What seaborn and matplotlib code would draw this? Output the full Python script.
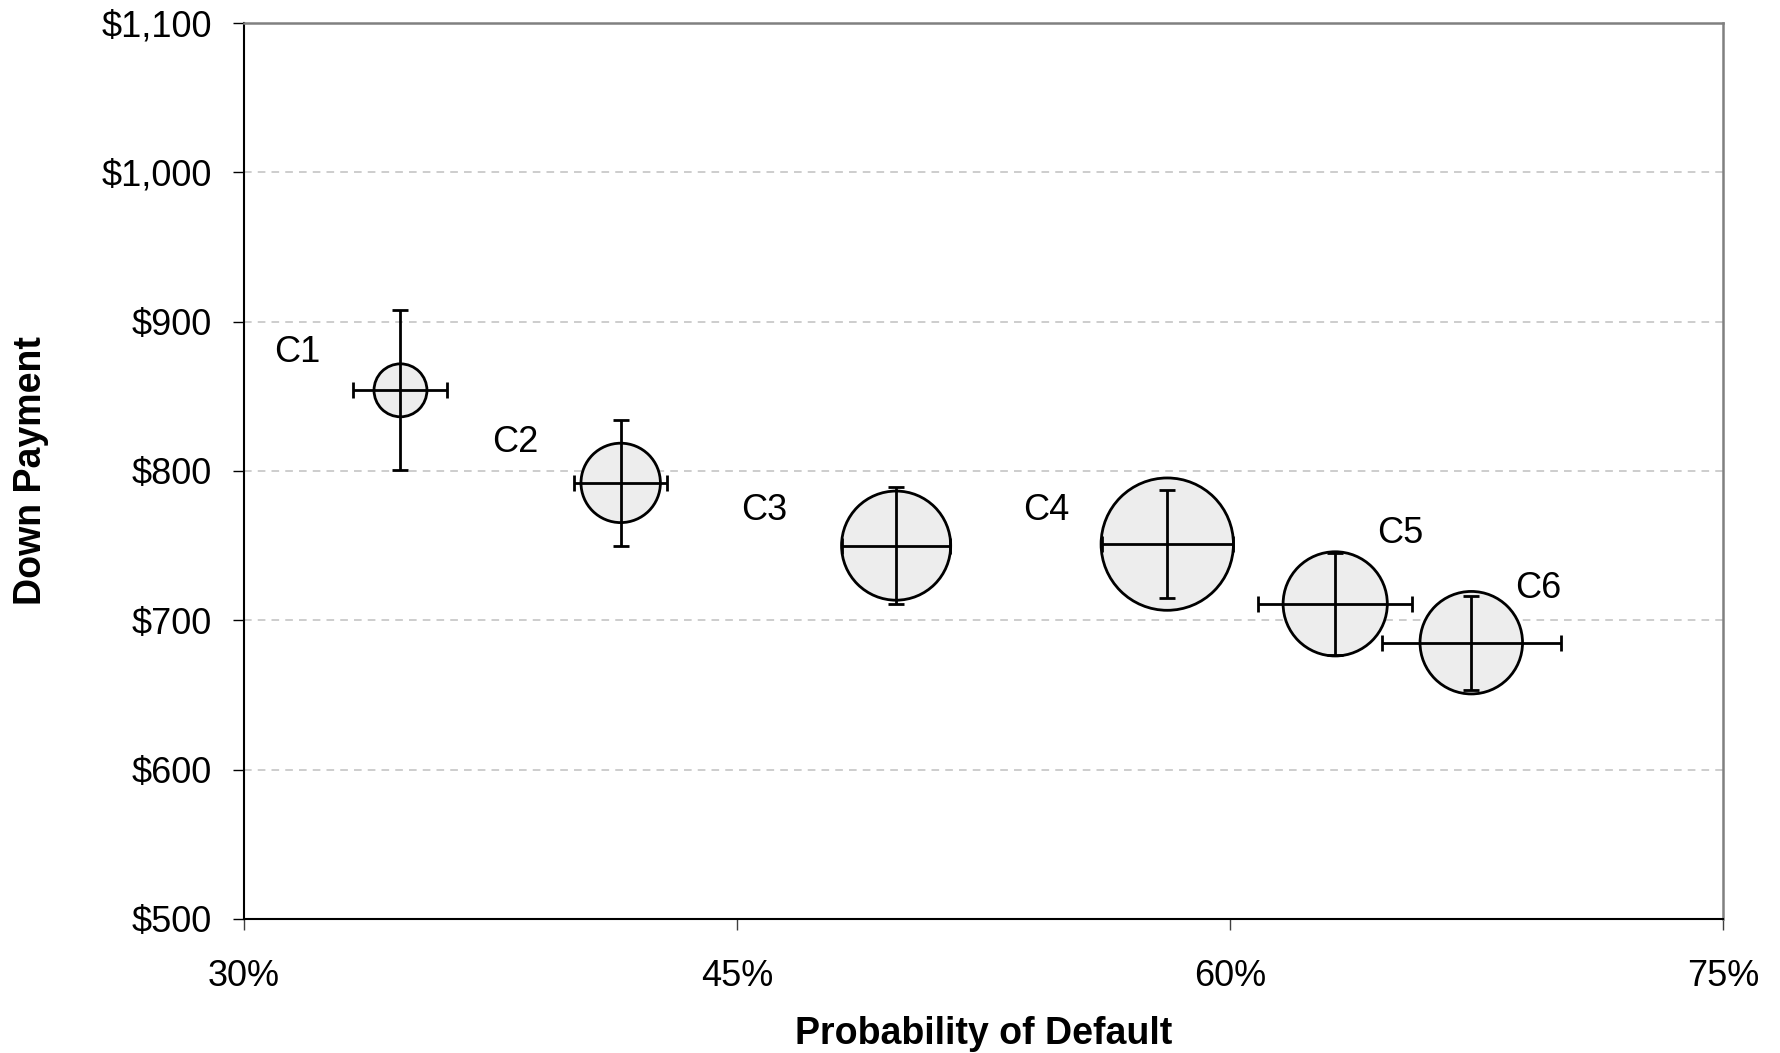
import numpy as np
import pandas as pd
import matplotlib
matplotlib.use("Agg")
import matplotlib.pyplot as plt
from matplotlib.ticker import FuncFormatter, MultipleLocator
import seaborn as sns

# -------------------------------
# Data
# -------------------------------
labels = ["C1", "C2", "C3", "C4", "C5", "C6"]
prob_default = [34.76, 41.46, 49.84, 58.09, 63.20, 67.34]      # %
down_payment = [854, 792, 750, 751, 711, 685]                  # $
x_err = [1.43, 1.41, 1.64, 2.00, 2.35, 2.73]                   # % points
y_err = [53.5, 42, 39, 36, 34, 31.5]                           # $
bubble_size = [16, 36, 68, 100, 62, 60]                        # relative area

df = pd.DataFrame({
    "label": labels,
    "pd": prob_default,
    "dp": down_payment,
    "size": bubble_size,
})

# label offsets in points (text placement only)
label_offsets = [(-74, 27), (-76, 29), (-95, 25), (-87, 24), (47, 51), (48, 39)]

# -------------------------------
# Style
# -------------------------------
sns.set_style("white")
plt.rcParams["font.family"] = ["Liberation Sans", "DejaVu Sans"]
plt.rcParams["text.color"] = "black"
plt.rcParams["axes.labelcolor"] = "black"
plt.rcParams["xtick.color"] = "black"
plt.rcParams["ytick.color"] = "black"

fig = plt.figure(figsize=(17.8, 10.53), dpi=100)
ax = fig.add_axes([0.1371, 0.1273, 0.8309, 0.8509])

# -------------------------------
# Bubbles
# -------------------------------
sns.scatterplot(
    data=df, x="pd", y="dp",
    size="size", sizes=(0, 9080), size_norm=(0, 100),
    color="#ededed", edgecolor="black", linewidth=2,
    legend=False, ax=ax, zorder=2,
)

ax.errorbar(
    prob_default, down_payment, xerr=x_err, yerr=y_err,
    fmt="none", ecolor="black", elinewidth=2,
    capsize=5.5, capthick=2, zorder=3,
)

for lab, x, y, off in zip(labels, prob_default, down_payment, label_offsets):
    ax.annotate(lab, (x, y), xytext=off, textcoords="offset points",
                ha="center", va="center", fontsize=26, color="black")

# -------------------------------
# Axes
# -------------------------------
ax.set_xlim(30, 75)
ax.set_ylim(500, 1100)
ax.xaxis.set_major_locator(MultipleLocator(15))
ax.yaxis.set_major_locator(MultipleLocator(100))
ax.xaxis.set_major_formatter(FuncFormatter(lambda v, p: f"{v:.0f}%"))
ax.yaxis.set_major_formatter(FuncFormatter(lambda v, p: f"${v:,.0f}"))

ax.yaxis.grid(True, linestyle=(0, (5, 4)), color="#c0c0c0", linewidth=1.1)
ax.set_axisbelow(True)

for side in ["left", "bottom"]:
    ax.spines[side].set_color("black")
    ax.spines[side].set_linewidth(1.5)
for side in ["top", "right"]:
    ax.spines[side].set_color("#808080")
    ax.spines[side].set_linewidth(1.8)

ax.tick_params(axis="x", direction="out", length=8, width=1, color="#404040",
               pad=21, labelsize=26, bottom=True)
ax.tick_params(axis="y", direction="out", length=8, width=1, color="black",
               pad=15, labelsize=26, left=True)

ax.set_xlabel("Probability of Default", fontsize=27, fontweight="bold", labelpad=16)
ax.set_ylabel("Down Payment", fontsize=27, fontweight="bold", labelpad=38)

fig.savefig("out.png", dpi=100)
